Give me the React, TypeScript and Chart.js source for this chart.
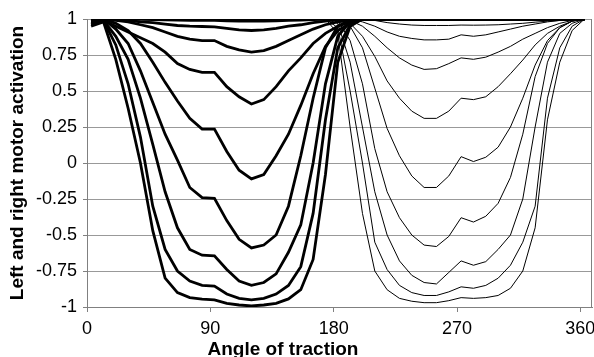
import React, { useEffect, useRef } from "react";
import { Chart, registerables } from "chart.js";

Chart.register(...registerables);

// Angle of traction (degrees) at which every curve is sampled
const angles = [3, 12, 21, 30, 39, 48, 57, 66, 75, 84, 93, 102, 111, 120, 129, 138, 147, 156, 165, 174, 183, 192, 201, 210, 219, 228, 237, 246, 255, 264, 273, 282, 291, 300, 309, 318, 327, 336, 345, 354, 363];

const xTicks = [0, 90, 180, 270, 360];
const xTickLabels = ["0", "90", "180", "270", "360"];
const yTicks = [-1, -0.75, -0.5, -0.25, 0, 0.25, 0.5, 0.75, 1];
const yTickLabels = ["-1", "-0.75", "-0.5", "-0.25", "0", "0.25", "0.5", "0.75", "1"];

const xTitle = "Angle of traction";
const yTitle = "Left and right motor activation";

// Left motor activation (thick curves)
const left1 = [0.99, 1, 1, 1, 0.998, 0.996, 0.994, 0.992, 0.99, 0.99, 0.99, 0.988, 0.986, 0.985, 0.986, 0.988, 0.99, 0.993, 0.996, 0.998, 1, 1, 1, 1, 1, 1, 1, 1, 1, 1, 1, 1, 1, 1, 1, 1, 1, 1, 1, 1, 1];
const left2 = [0.99, 1, 0.995, 0.99, 0.98, 0.975, 0.965, 0.955, 0.95, 0.948, 0.946, 0.935, 0.925, 0.92, 0.925, 0.935, 0.95, 0.96, 0.975, 0.985, 0.995, 1, 1, 1, 1, 1, 1, 1, 1, 1, 1, 1, 1, 1, 1, 1, 1, 1, 1, 1, 1];
const left3 = [0.99, 1, 0.99, 0.98, 0.96, 0.94, 0.91, 0.88, 0.86, 0.85, 0.85, 0.81, 0.785, 0.77, 0.78, 0.81, 0.85, 0.89, 0.93, 0.96, 0.98, 0.99, 1, 1, 1, 1, 1, 1, 1, 1, 1, 1, 1, 1, 1, 1, 1, 1, 1, 1, 1];
const left4 = [0.98, 0.99, 0.95, 0.91, 0.87, 0.83, 0.77, 0.69, 0.65, 0.63, 0.63, 0.53, 0.46, 0.41, 0.44, 0.53, 0.64, 0.73, 0.83, 0.9, 0.95, 0.98, 1, 1, 1, 1, 1, 1, 1, 1, 1, 1, 1, 1, 1, 1, 1, 1, 1, 1, 1];
const left5 = [0.99, 1, 0.97, 0.92, 0.83, 0.7, 0.56, 0.43, 0.31, 0.235, 0.235, 0.08, -0.05, -0.11, -0.08, 0.05, 0.2, 0.4, 0.62, 0.81, 0.92, 0.97, 1, 1, 1, 1, 1, 1, 1, 1, 1, 1, 1, 1, 1, 1, 1, 1, 1, 1, 1];
const left6 = [0.98, 1, 0.93, 0.83, 0.64, 0.42, 0.2, 0.02, -0.17, -0.24, -0.245, -0.4, -0.53, -0.59, -0.57, -0.5, -0.3, 0.05, 0.45, 0.8, 0.95, 0.99, 1, 1, 1, 1, 1, 1, 1, 1, 1, 1, 1, 1, 1, 1, 1, 1, 1, 1, 1];
const left7 = [0.97, 0.99, 0.88, 0.72, 0.45, 0.13, -0.2, -0.45, -0.6, -0.64, -0.645, -0.74, -0.82, -0.85, -0.83, -0.77, -0.62, -0.43, 0.0, 0.55, 0.88, 0.98, 1, 1, 1, 1, 1, 1, 1, 1, 1, 1, 1, 1, 1, 1, 1, 1, 1, 1, 1];
const left8 = [0.96, 0.99, 0.82, 0.55, 0.18, -0.3, -0.6, -0.75, -0.82, -0.85, -0.855, -0.91, -0.94, -0.95, -0.94, -0.91, -0.85, -0.72, -0.35, 0.3, 0.8, 0.96, 1, 1, 1, 1, 1, 1, 1, 1, 1, 1, 1, 1, 1, 1, 1, 1, 1, 1, 1];
const left9 = [0.95, 0.98, 0.72, 0.38, 0.0, -0.47, -0.8, -0.9, -0.935, -0.945, -0.95, -0.975, -0.986, -0.993, -0.986, -0.975, -0.944, -0.88, -0.67, -0.08, 0.7, 0.95, 1, 1, 1, 1, 1, 1, 1, 1, 1, 1, 1, 1, 1, 1, 1, 1, 1, 1, 1];

// Right motor activation (thin curves)
const right1 = [1, 1, 1, 1, 1, 1, 1, 1, 1, 1, 1, 1, 1, 1, 1, 1, 1, 1, 1, 1, 1, 1, 1, 0.998, 0.996, 0.993, 0.991, 0.99, 0.99, 0.99, 0.99, 0.99, 0.99, 0.99, 0.991, 0.993, 0.995, 0.997, 0.998, 0.999, 1];
const right2 = [1, 1, 1, 1, 1, 1, 1, 1, 1, 1, 1, 1, 1, 1, 1, 1, 1, 1, 1, 1, 1, 1, 1, 0.99, 0.975, 0.965, 0.958, 0.955, 0.955, 0.955, 0.958, 0.957, 0.958, 0.96, 0.965, 0.97, 0.978, 0.985, 0.99, 0.995, 1];
const right3 = [1, 1, 1, 1, 1, 1, 1, 1, 1, 1, 1, 1, 1, 1, 1, 1, 1, 1, 1, 1, 1, 1, 0.98, 0.95, 0.91, 0.88, 0.865, 0.855, 0.855, 0.86, 0.89, 0.88, 0.89, 0.91, 0.93, 0.95, 0.965, 0.98, 0.99, 0.995, 1];
const right4 = [1, 1, 1, 1, 1, 1, 1, 1, 1, 1, 1, 1, 1, 1, 1, 1, 1, 1, 1, 1, 1, 0.99, 0.95, 0.88, 0.8, 0.73, 0.68, 0.65, 0.655, 0.69, 0.73, 0.72, 0.735, 0.77, 0.81, 0.86, 0.9, 0.94, 0.97, 0.99, 1];
const right5 = [1, 1, 1, 1, 1, 1, 1, 1, 1, 1, 1, 1, 1, 1, 1, 1, 1, 1, 1, 1, 1, 0.97, 0.88, 0.74, 0.57, 0.45, 0.36, 0.31, 0.31, 0.36, 0.45, 0.44, 0.46, 0.53, 0.62, 0.715, 0.82, 0.9, 0.95, 0.985, 1];
const right6 = [1, 1, 1, 1, 1, 1, 1, 1, 1, 1, 1, 1, 1, 1, 1, 1, 1, 1, 1, 1, 1, 0.95, 0.8, 0.52, 0.24, 0.05, -0.09, -0.17, -0.17, -0.09, 0.044, 0.01, 0.04, 0.11, 0.25, 0.45, 0.68, 0.85, 0.94, 0.985, 1];
const right7 = [1, 1, 1, 1, 1, 1, 1, 1, 1, 1, 1, 1, 1, 1, 1, 1, 1, 1, 1, 1, 0.99, 0.85, 0.55, 0.1, -0.2, -0.38, -0.5, -0.57, -0.58, -0.51, -0.38, -0.41, -0.37, -0.28, -0.1, 0.2, 0.6, 0.83, 0.94, 0.985, 1];
const right8 = [1, 1, 1, 1, 1, 1, 1, 1, 1, 1, 1, 1, 1, 1, 1, 1, 1, 1, 1, 1, 0.97, 0.7, 0.25, -0.2, -0.5, -0.68, -0.78, -0.83, -0.84, -0.76, -0.68, -0.71, -0.685, -0.6, -0.5, -0.25, 0.25, 0.7, 0.9, 0.97, 1];
const right9 = [1, 1, 1, 1, 1, 1, 1, 1, 1, 1, 1, 1, 1, 1, 1, 1, 1, 1, 1, 1, 0.94, 0.5, 0.0, -0.55, -0.74, -0.85, -0.9, -0.92, -0.92, -0.895, -0.86, -0.87, -0.85, -0.8, -0.71, -0.55, -0.3, 0.45, 0.8, 0.95, 1];
const right10 = [1, 1, 1, 1, 1, 1, 1, 1, 1, 1, 1, 1, 1, 1, 1, 1, 1, 1, 1, 1, 0.9, 0.25, -0.35, -0.75, -0.88, -0.94, -0.96, -0.97, -0.97, -0.956, -0.935, -0.94, -0.935, -0.92, -0.87, -0.75, -0.45, 0.3, 0.7, 0.92, 1];

const leftSeries = [left1, left2, left3, left4, left5, left6, left7, left8, left9];
const rightSeries = [right1, right2, right3, right4, right5, right6, right7, right8, right9, right10];

const FONT = '"Liberation Sans", Arial, Helvetica, sans-serif';

const framePlugin = {
  id: "frame",
  beforeDatasetsDraw(chart: any) {
    const { ctx, chartArea } = chart;
    ctx.save();
    ctx.strokeStyle = "#808080";
    ctx.lineWidth = 1;
    ctx.beginPath();
    ctx.moveTo(Math.round(chartArea.right) - 0.5, chartArea.top);
    ctx.lineTo(Math.round(chartArea.right) - 0.5, chartArea.bottom);
    ctx.stroke();
    ctx.restore();
  },
  afterDraw(chart: any) {
    const { ctx, chartArea } = chart;
    ctx.save();
    ctx.fillStyle = "#000";
    ctx.font = "bold 19px " + FONT;
    ctx.textAlign = "center";
    ctx.textBaseline = "alphabetic";
    ctx.fillText(xTitle, 283, 355);
    ctx.translate(23, (chartArea.top + chartArea.bottom) / 2);
    ctx.rotate(-Math.PI / 2);
    ctx.fillText(yTitle, 0, 0);
    ctx.restore();
  },
};

export default function App() {
  const canvasRef = useRef<HTMLCanvasElement | null>(null);

  useEffect(() => {
    document.body.style.margin = "0";
    const canvas = canvasRef.current;
    if (!canvas) return;

    const datasets: any[] = [];
    leftSeries.forEach((vals, i) => {
      datasets.push({
        label: "Left " + (i + 1),
        data: angles.map((a, k) => ({ x: a, y: vals[k] })),
        borderColor: "#000",
        borderWidth: 2.8,
        pointRadius: 0,
        tension: 0,
        fill: false,
      });
    });
    rightSeries.forEach((vals, i) => {
      datasets.push({
        label: "Right " + (i + 1),
        data: angles.map((a, k) => ({ x: a, y: vals[k] })),
        borderColor: "#000",
        borderWidth: 1,
        pointRadius: 0,
        tension: 0,
        fill: false,
      });
    });

    const chart = new Chart(canvas, {
      type: "line",
      data: { datasets },
      options: {
        animation: false,
        responsive: false,
        maintainAspectRatio: false,
        layout: { padding: { top: 19, right: 2, left: 0, bottom: 0 } },
        plugins: {
          legend: { display: false },
          tooltip: { enabled: false },
          title: { display: false },
        },
        scales: {
          x: {
            type: "linear",
            min: 0,
            max: 368.5,
            afterBuildTicks: (s: any) => {
              s.ticks = xTicks.map((v) => ({ value: v }));
            },
            afterFit: (s: any) => {
              s.height = 50;
              s.paddingLeft = 0;
              s.paddingRight = 0;
            },
            grid: {
              drawOnChartArea: false,
              drawTicks: true,
              tickLength: 5,
              tickColor: "#808080",
            },
            border: { display: true, color: "#808080", width: 1 },
            ticks: {
              autoSkip: false,
              maxRotation: 0,
              minRotation: 0,
              padding: 6,
              color: "#000",
              font: { family: FONT, size: 18 },
              callback: (_v: any, i: number) => xTickLabels[i],
            },
          },
          y: {
            type: "linear",
            min: -1,
            max: 1,
            afterBuildTicks: (s: any) => {
              s.ticks = yTicks.map((v) => ({ value: v }));
            },
            afterFit: (s: any) => {
              s.width = 87;
              s.paddingTop = 0;
              s.paddingBottom = 0;
            },
            grid: {
              color: "#999999",
              lineWidth: 1,
              drawTicks: true,
              tickLength: 4,
              tickColor: "#808080",
            },
            border: { display: true, color: "#808080", width: 1 },
            ticks: {
              padding: 6,
              color: "#000",
              font: { family: FONT, size: 18 },
              callback: (_v: any, i: number) => yTickLabels[i],
            },
          },
        },
      },
      plugins: [framePlugin],
    });

    return () => chart.destroy();
  }, []);

  return (
    <div style={{ width: 594, height: 357, background: "#fff" }}>
      <canvas ref={canvasRef} width={594} height={357} style={{ display: "block" }} />
    </div>
  );
}
